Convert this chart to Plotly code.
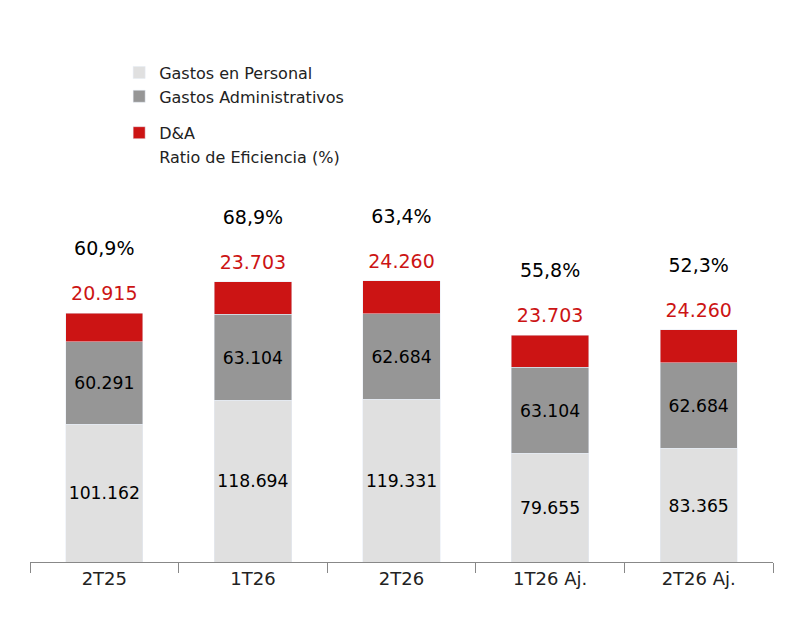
import plotly.graph_objects as go

categories = ["2T25", "1T26", "2T26", "1T26 Aj.", "2T26 Aj."]
personal = [101.162, 118.694, 119.331, 79.655, 83.365]
admin = [60.291, 63.104, 62.684, 63.104, 62.684]
dya = [20.915, 23.703, 24.260, 23.703, 24.260]
ratio = ["60,9%", "68,9%", "63,4%", "55,8%", "52,3%"]

def fmt(v):
    return f"{v:.3f}"

totals = [p + a + d for p, a, d in zip(personal, admin, dya)]
font = "DejaVu Sans"

fig = go.Figure()
fig.add_trace(go.Bar(x=categories, y=personal, name="Gastos en Personal", marker_color="#e0e0e0",
                     text=[fmt(v) for v in personal], textposition="inside", insidetextanchor="middle",
                     textangle=0, textfont=dict(size=19, color="black"), legend="legend"))
fig.add_trace(go.Bar(x=categories, y=admin, name="Gastos Administrativos", marker_color="#969696",
                     text=[fmt(v) for v in admin], textposition="inside", insidetextanchor="middle",
                     textangle=0, textfont=dict(size=19, color="black"), legend="legend"))
fig.add_trace(go.Bar(x=categories, y=dya, name="D&A", marker_color="#cc1414", legend="legend2"))
fig.add_trace(go.Scatter(x=categories, y=[t + 13 for t in totals], mode="text",
                         text=[fmt(v) for v in dya], textfont=dict(size=19, color="#cc1414"),
                         showlegend=False))
fig.add_trace(go.Scatter(x=categories, y=[t + 46 for t in totals], mode="text", text=ratio,
                         textfont=dict(size=19, color="black"), showlegend=False))
fig.add_trace(go.Scatter(x=[None], y=[None], mode="lines", line=dict(width=0),
                         name="Ratio de Eficiencia (%)", legend="legend2"))

fig.update_layout(
    width=800, height=634, barmode="stack", bargap=0.48,
    plot_bgcolor="white", paper_bgcolor="white",
    font=dict(family=font, size=16, color="#222"),
    margin=dict(t=130, b=80, l=22, r=35),
    uniformtext=dict(mode="show", minsize=10),
    legend=dict(orientation="h", x=0.12, y=0.925, yref="container", yanchor="top", xanchor="left",
                entrywidth=340, entrywidthmode="pixels", traceorder="normal",
                font=dict(size=16), itemwidth=30),
    legend2=dict(orientation="h", x=0.12, y=0.83, yref="container", yanchor="top", xanchor="left",
                 entrywidth=340, entrywidthmode="pixels", traceorder="normal",
                 font=dict(size=16), itemwidth=30),
    xaxis=dict(showline=True, linecolor="#888", ticks="outside", tickson="boundaries",
               ticklen=10, tickcolor="#888", tickfont=dict(size=18, color="#222")),
    yaxis=dict(visible=False, range=[0, 276]),
)
fig.write_html("out.html")
